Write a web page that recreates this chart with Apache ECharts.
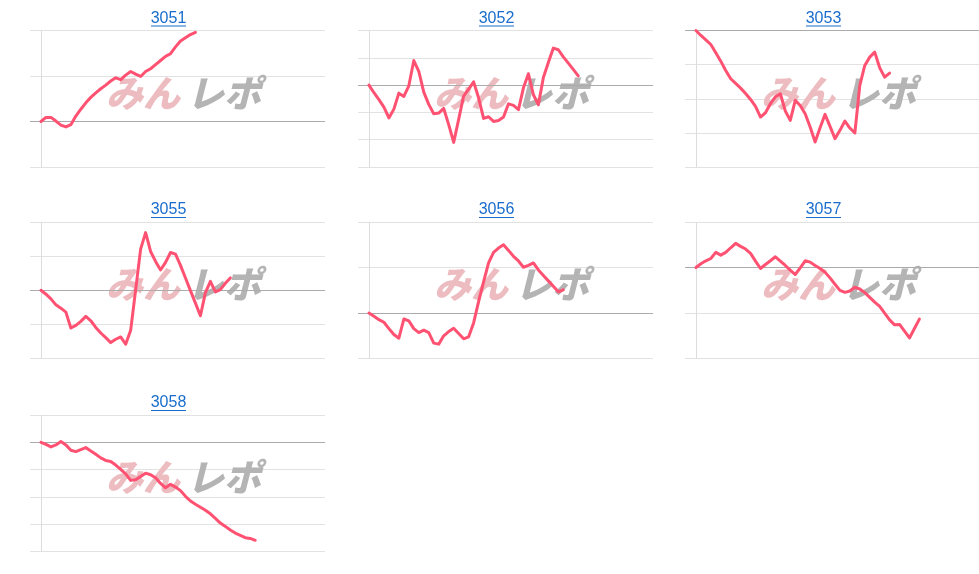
<!DOCTYPE html>
<html><head><meta charset="utf-8">
<script src="https://cdn.jsdelivr.net/npm/echarts@6/dist/echarts.min.js"></script>
<style>html,body{margin:0;padding:0;background:#fff}#c{width:979px;height:574px}</style>
</head><body><div id="c"></div>
<script>
const codes = ['3051','3052','3053','3055','3056','3057','3058'];
const s3051 = [0,0.9,0.9,0.1,-0.8,-1.2,-0.7,1.2,2.7,4.1,5.3,6.3,7.2,8.0,8.9,9.6,9.2,10.2,11.0,10.4,9.9,11.0,11.6,12.5,13.4,14.3,14.9,16.4,17.7,18.4,19.1,19.6];
const s3052 = [0,-0.56,-1.07,-1.61,-2.41,-1.76,-0.59,-0.83,-0.05,1.80,1.0,-0.51,-1.41,-2.10,-2.05,-1.71,-2.90,-4.20,-2.51,-0.80,-0.29,0.24,-0.93,-2.44,-2.32,-2.66,-2.59,-2.34,-1.37,-1.49,-1.80,-0.20,0.83,-0.71,-1.44,0.56,1.66,2.71,2.59,2.07,1.61,1.15,0.68];
const s3053 = [0,-0.73,-1.37,-2.05,-3.27,-4.49,-5.85,-7.07,-7.76,-8.44,-9.22,-10.10,-11.12,-12.68,-12.05,-10.73,-9.71,-9.27,-11.80,-13.17,-10.24,-10.98,-12.20,-14.15,-16.34,-14.24,-12.29,-14.05,-15.85,-14.63,-13.27,-14.29,-15.02,-8.05,-5.12,-3.90,-3.17,-5.46,-6.83,-6.24];
const s3055 = [0,-0.58,-1.26,-2.14,-2.62,-3.20,-5.53,-5.15,-4.56,-3.83,-4.47,-5.44,-6.26,-6.94,-7.67,-7.18,-6.84,-7.91,-5.87,0.05,6.02,8.45,5.68,4.22,2.96,4.08,5.53,5.29,3.64,1.80,-0.05,-1.89,-3.74,-0.34,1.31,-0.24,0.10,1.02,1.80];
const s3056 = [0,-0.36,-0.73,-1.02,-1.71,-2.37,-2.77,-0.66,-0.87,-1.71,-2.15,-1.89,-2.15,-3.31,-3.42,-2.51,-2.04,-1.68,-2.26,-2.84,-2.62,-1.09,1.24,3.42,5.50,6.66,7.14,7.50,6.88,6.23,5.72,5.03,5.24,5.50,4.73,4.12,3.53,2.95,2.33,2.55];
const s3057 = [0,0.41,0.74,0.99,1.66,1.36,1.66,2.17,2.65,2.32,2.03,1.55,0.70,-0.11,0.33,0.74,1.18,0.70,0.22,-0.29,-0.77,-0.04,0.74,0.59,0.22,-0.11,-0.52,-1.14,-1.84,-2.51,-2.73,-2.58,-2.17,-2.36,-2.76,-3.28,-3.80,-4.27,-5.01,-5.75,-6.30,-6.26,-7.00,-7.74,-6.71,-5.67];
const s3058 = [0,-0.15,-0.34,-0.19,0.05,-0.19,-0.58,-0.68,-0.53,-0.39,-0.63,-0.87,-1.14,-1.33,-1.41,-1.67,-1.99,-2.31,-2.79,-2.74,-2.50,-2.26,-2.38,-2.60,-3.01,-3.33,-3.08,-3.28,-3.54,-3.96,-4.30,-4.54,-4.76,-4.98,-5.24,-5.58,-5.92,-6.16,-6.43,-6.65,-6.82,-6.99,-7.04,-7.18];
const seriesValues = [s3051, s3052, s3053, s3055, s3056, s3057, s3058];
const yMin  = [-10, -6, -20, -10, -5, -10, -8];
const yMax  = [ 20,  4,   0,  10, 10,   5,  2];
const yStep = [ 10,  2,   5,   5,  5,   5,  2];
const xSteps = 57;

// layout
const colLeft = [30, 358, 685];
const rowTop = [30.5, 222, 415];
const gW = 295, gH = 136.5;
const xPad = 2.2;

const chart = echarts.init(document.getElementById('c'), null, {renderer: 'canvas'});
const grids = [], xAxes = [], yAxes = [], series = [], graphics = [];
codes.forEach((code, k) => {
  const col = k % 3, row = Math.floor(k / 3);
  const L = colLeft[col], T = rowTop[row];
  grids.push({left: L, top: T, width: gW, height: gH, containLabel: false});
  xAxes.push({type: 'value', gridIndex: k, min: -xPad, max: xSteps, show: false});
  yAxes.push({type: 'value', gridIndex: k, min: yMin[k], max: yMax[k], interval: yStep[k],
    axisLabel: {show: false}, axisLine: {show: false}, axisTick: {show: false},
    splitLine: {show: true, lineStyle: {color: '#e2e2e2', width: 1}}});
  series.push({type: 'line', xAxisIndex: k, yAxisIndex: k, z: 10, clip: false,
    data: seriesValues[k].map((v, i) => [i, v]),
    showSymbol: false, symbol: 'none', animation: false,
    lineStyle: {color: '#ff5272', width: 3, join: 'round', cap: 'round'},
    markLine: {silent: true, symbol: 'none', animation: false, label: {show: false}, z: 5,
      data: [
        {xAxis: 0, lineStyle: {color: '#dcdcdc', type: 'solid', width: 1}},
        {yAxis: 0, lineStyle: {color: '#ababab', type: 'solid', width: 1}}
      ]}
  });
  const tx = L + 138.5, ty = T - 12;
  graphics.push({type: 'text', x: tx, y: ty, z: 20,
    style: {text: code, fill: '#1a6dcc', font: '16px "Liberation Sans", Arial, sans-serif', textAlign: 'center', textVerticalAlign: 'middle'}});
  graphics.push({type: 'rect', shape: {x: tx - 17.5, y: ty + 7, width: 35, height: 1}, z: 20,
    style: {fill: '#1a6dcc'}});
  graphics.push({type: 'text', x: L + 113, y: T + 62, z: 1,
    style: {text: 'みん', fill: '#ecbcc0', font: 'italic 900 37px "Noto Sans CJK JP", sans-serif', textAlign: 'center', textVerticalAlign: 'middle'}});
  graphics.push({type: 'text', x: L + 194, y: T + 62, z: 1,
    style: {text: 'レポ', fill: '#b4b4b4', font: 'italic 900 37px "Noto Sans CJK JP", sans-serif', textAlign: 'center', textVerticalAlign: 'middle'}});
});

chart.setOption({
  animation: false,
  backgroundColor: '#ffffff',
  grid: grids, xAxis: xAxes, yAxis: yAxes, series: series,
  graphic: {elements: graphics}
});
</script></body></html>
